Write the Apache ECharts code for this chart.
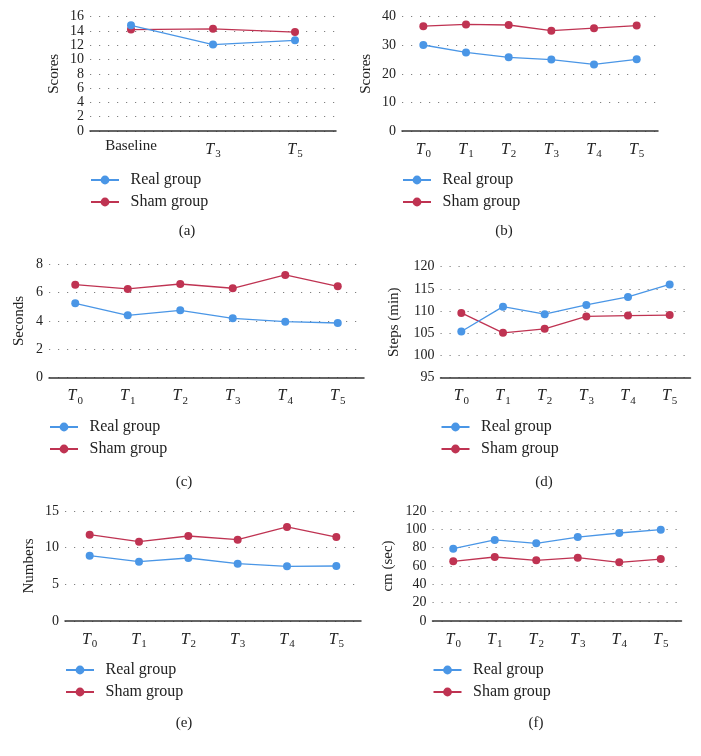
<!DOCTYPE html>
<html>
<head>
<meta charset="utf-8">
<script src="https://cdn.jsdelivr.net/npm/echarts@6/dist/echarts.min.js"></script>
<style>
html,body{margin:0;padding:0;background:#fff;}
#c{width:701px;height:756px;}
</style>
</head>
<body>
<div id="c"></div>
<script>
// ---- data ----
var catsA = ['Baseline', 'T3', 'T5'];
var catsT = ['T0', 'T1', 'T2', 'T3', 'T4', 'T5'];
var seriesNames = ['Real group', 'Sham group'];

var realA = [14.8, 12.1, 12.7];
var shamA = [14.2, 14.3, 13.85];

var realB = [30.1, 27.5, 25.8, 25.0, 23.3, 25.1];
var shamB = [36.7, 37.3, 37.1, 35.1, 36.0, 36.9];

var realC = [5.25, 4.40, 4.75, 4.19, 3.95, 3.86];
var shamC = [6.56, 6.26, 6.61, 6.31, 7.25, 6.45];

var realD = [105.4, 111.0, 109.3, 111.4, 113.2, 116.0];
var shamD = [109.6, 105.1, 106.0, 108.8, 109.0, 109.1];

var realE = [8.91, 8.09, 8.59, 7.82, 7.45, 7.5];
var shamE = [11.77, 10.82, 11.59, 11.09, 12.82, 11.45];

var realF = [78.9, 88.4, 84.7, 91.6, 96.0, 99.6];
var shamF = [65.1, 69.8, 66.2, 69.1, 64.0, 67.6];

var yNames = ['Scores', 'Scores', 'Seconds', 'Steps (min)', 'Numbers', 'cm (sec)'];
var captions = ['(a)', '(b)', '(c)', '(d)', '(e)', '(f)'];

// ---- layout ----
var FONT = '"Liberation Serif", "DejaVu Serif", serif';
var BLUE = '#4a96e6';
var RED = '#bf3352';

var panels = [
  {cats: catsA, real: realA, sham: shamA, min: 0, max: 16, step: 2,
   grid: {left: 90, top: 16.7, width: 246, height: 114.3}, nameGap: 28,
   legend: {left: 90, top: 172}, cap: [187, 231]},
  {cats: catsT, real: realB, sham: shamB, min: 0, max: 40, step: 10,
   grid: {left: 402, top: 16.7, width: 256, height: 114.3}, nameGap: 28,
   legend: {left: 402, top: 172}, cap: [504, 231]},
  {cats: catsT, real: realC, sham: shamC, min: 0, max: 8, step: 2,
   grid: {left: 49, top: 264.3, width: 315, height: 113.4}, nameGap: 22,
   legend: {left: 49, top: 419}, cap: [184, 482]},
  {cats: catsT, real: realD, sham: shamD, min: 95, max: 120, step: 5,
   grid: {left: 440.5, top: 266.7, width: 250, height: 111}, nameGap: 39,
   legend: {left: 440.5, top: 419}, cap: [544, 482]},
  {cats: catsT, real: realE, sham: shamE, min: 0, max: 15, step: 5,
   grid: {left: 65, top: 511, width: 296, height: 110}, nameGap: 28,
   legend: {left: 65, top: 662}, cap: [184, 723]},
  {cats: catsT, real: realF, sham: shamF, min: 0, max: 120, step: 20,
   grid: {left: 432.5, top: 511, width: 249, height: 110}, nameGap: 37,
   legend: {left: 432.5, top: 662}, cap: [536, 723]}
];

function catFmt(v) {
  if (v.charAt(0) === 'T' && v.length === 2) {
    return '{i|T}{s|' + v.charAt(1) + '}';
  }
  return '{n|' + v + '}';
}

var option = {
  animation: false,
  backgroundColor: '#fff',
  textStyle: {fontFamily: FONT},
  grid: [], xAxis: [], yAxis: [], series: [], legend: [], graphic: []
};

panels.forEach(function (p, k) {
  option.grid.push({left: p.grid.left, top: p.grid.top, width: p.grid.width, height: p.grid.height, containLabel: false});
  option.xAxis.push({
    type: 'category', gridIndex: k, data: p.cats, boundaryGap: true,
    axisLine: {show: true, lineStyle: {color: '#333', width: 1.5}},
    axisTick: {show: false},
    axisLabel: {
      interval: 0, margin: 8, formatter: catFmt, color: '#222',
      rich: {
        i: {fontFamily: FONT, fontSize: 16, fontStyle: 'italic', color: '#222'},
        s: {fontFamily: FONT, fontSize: 11, color: '#222', padding: [10, 0, 0, 1]},
        n: {fontFamily: FONT, fontSize: 15, color: '#222'}
      }
    },
    splitLine: {show: false}
  });
  option.yAxis.push({
    type: 'value', gridIndex: k, min: p.min, max: p.max, interval: p.step,
    name: yNames[k], nameLocation: 'middle', nameGap: p.nameGap, nameRotate: 90,
    nameTextStyle: {fontFamily: FONT, fontSize: 15, color: '#222'},
    axisLine: {show: false}, axisTick: {show: false},
    axisLabel: {margin: 6, color: '#222', fontFamily: FONT, fontSize: 14},
    splitLine: {show: true, lineStyle: {color: '#808080', width: 1.2, type: [1.2, 7.8]}}
  });
  [p.real, p.sham].forEach(function (d, j) {
    option.series.push({
      type: 'line', name: seriesNames[j], xAxisIndex: k, yAxisIndex: k, data: d,
      symbol: 'circle', symbolSize: 8, showSymbol: true,
      itemStyle: {color: j === 0 ? BLUE : RED},
      lineStyle: {color: j === 0 ? BLUE : RED, width: 1.3},
      z: j === 0 ? 3 : 2
    });
  });
  option.legend.push({
    orient: 'vertical', left: p.legend.left, top: p.legend.top, padding: 0,
    itemWidth: 28, itemHeight: 11, itemGap: 6,
    data: seriesNames,
    textStyle: {fontFamily: FONT, fontSize: 16, color: '#222', padding: [0, 0, 0, 6.5]}
  });
  option.graphic.push({
    type: 'text', x: p.cap[0], y: p.cap[1],
    style: {text: captions[k], fill: '#222', font: '15px ' + FONT, textAlign: 'center', textVerticalAlign: 'middle'}
  });
});

var chart = echarts.init(document.getElementById('c'), null, {renderer: 'canvas'});
chart.setOption(option);
</script>
</body>
</html>
